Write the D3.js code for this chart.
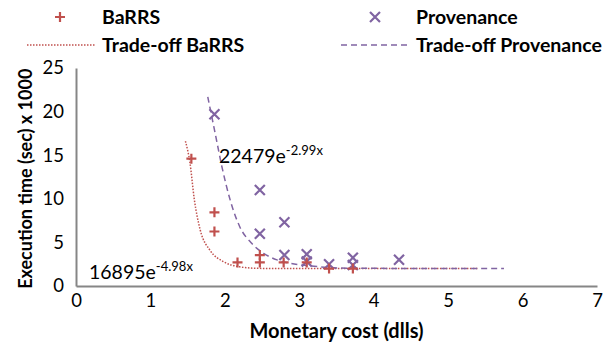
<!DOCTYPE html>
<html lang="en">
    <head>
        <meta charset="utf-8">
        <title>Trade-off chart</title>
        <script src="https://d3js.org/d3.v7.min.js"></script>
        <style type="text/css">
          body
          {
              margin: 0;
              background: #ffffff;
          }
          text
          {
              font-family: Lato, "Open Sans", sans-serif;
          }
        </style>
    </head>
    <body>
        <script type="text/javascript">
            // measured points, cost in dlls and time in sec x 1000
            var barrsCost = [1.55, 1.86, 1.86, 2.17, 2.47, 2.47, 2.79, 3.10, 3.40, 3.72];
            var barrsTime = [14.6, 8.45, 6.25, 2.7, 3.55, 2.7, 2.7, 2.7, 2.0, 2.0];

            var provCost = [1.86, 2.47, 2.47, 2.80, 2.80, 3.10, 3.10, 3.40, 3.72, 3.72, 4.34];
            var provTime = [19.7, 11.0, 6.0, 7.3, 3.55, 3.65, 2.8, 2.5, 3.25, 2.4, 3.0];

            // fitted trade-off curves
            var barrsFitCost = [1.47, 1.53, 1.59, 1.67, 1.80, 1.98, 2.2, 2.43, 2.8, 5.4];
            var barrsFitTime = [16.6, 14.2, 9.9, 6.4, 4.1, 2.8, 2.2, 2.03, 2.0, 2.0];

            var provFitCost = [1.77, 1.87, 1.96, 2.07, 2.2, 2.36, 2.52, 2.7, 2.88, 3.1, 3.4, 3.8, 5.75];
            var provFitTime = [21.7, 17.5, 13.7, 9.9, 6.8, 4.9, 3.75, 3.0, 2.6, 2.35, 2.12, 2.03, 2.0];

            var xTicks = [0, 1, 2, 3, 4, 5, 6, 7];
            var yTicks = [0, 5, 10, 15, 20, 25];

            var red = "#c0504d";
            var purple = "#8064a2";

            var w = 612, h = 346;
            var margin = {top: 68, right: 15, bottom: 60, left: 76};

            var svg = d3.select("body")
                        .append("svg")
                        .attr("width", w)
                        .attr("height", h);

            var xScale = d3.scaleLinear().domain([0, 7]).range([margin.left, w - margin.right]);
            var yScale = d3.scaleLinear().domain([0, 25]).range([h - margin.bottom, margin.top]);

            // axes, no tick marks, grey lines
            var xAxis = d3.axisBottom(xScale).tickValues(xTicks).tickFormat(d3.format("d")).tickSize(0).tickPadding(8);
            var gx = svg.append("g")
                        .attr("transform", "translate(0," + yScale(0) + ")")
                        .call(xAxis);

            var yAxis = d3.axisLeft(yScale).tickValues(yTicks).tickFormat(d3.format("d")).tickSize(0).tickPadding(12);
            var gy = svg.append("g")
                        .attr("transform", "translate(" + xScale(0) + ",0)")
                        .call(yAxis);

            [gx, gy].forEach(function(g)
            {
                g.select(".domain").attr("stroke", "#868686").attr("stroke-width", 2);
                g.selectAll("text")
                 .attr("fill", "#000")
                 .style("font-size", "18.5px")
                 .style("font-family", "Lato, sans-serif");
            });

            // axis titles
            svg.append("text")
               .attr("x", (xScale(0) + xScale(7)) / 2)
               .attr("y", 338)
               .attr("text-anchor", "middle")
               .style("font-size", "20px")
               .style("font-weight", "bold")
               .text("Monetary cost (dlls)");

            svg.append("text")
               .attr("transform", "translate(32," + yScale(12.3) + ") rotate(-90)")
               .attr("text-anchor", "middle")
               .style("font-size", "18px")
               .style("font-weight", "bold")
               .text("Execution time (sec) x 1000");

            // trade-off lines
            var line = d3.line()
                         .x(function(d) { return xScale(d[0]); })
                         .y(function(d) { return yScale(d[1]); })
                         .curve(d3.curveMonotoneX);

            svg.append("path")
               .datum(d3.zip(barrsFitCost, barrsFitTime))
               .attr("fill", "none")
               .attr("stroke", red)
               .attr("stroke-width", 1.5)
               .attr("stroke-dasharray", "1.5,1.5")
               .attr("d", line);

            svg.append("path")
               .datum(d3.zip(provFitCost, provFitTime))
               .attr("fill", "none")
               .attr("stroke", purple)
               .attr("stroke-width", 1.5)
               .attr("stroke-dasharray", "6,4")
               .attr("d", line);

            // markers
            function drawPlus(g, x, y, color)
            {
                g.append("path")
                 .attr("d", "M" + (x - 5) + "," + y + "H" + (x + 5) + "M" + x + "," + (y - 5) + "V" + (y + 5))
                 .attr("stroke", color)
                 .attr("stroke-width", 2.2);
            }
            function drawCross(g, x, y, color)
            {
                g.append("path")
                 .attr("d", "M" + (x - 5) + "," + (y - 5) + "L" + (x + 5) + "," + (y + 5) +
                            "M" + (x - 5) + "," + (y + 5) + "L" + (x + 5) + "," + (y - 5))
                 .attr("stroke", color)
                 .attr("stroke-width", 2.2);
            }

            var pts = svg.append("g");
            d3.zip(provCost, provTime).forEach(function(d)
            {
                drawCross(pts, xScale(d[0]), yScale(d[1]), purple);
            });
            d3.zip(barrsCost, barrsTime).forEach(function(d)
            {
                drawPlus(pts, xScale(d[0]), yScale(d[1]), red);
            });

            // equation labels
            function equation(x, y, base, power)
            {
                var t = svg.append("text")
                           .attr("x", x)
                           .attr("y", y)
                           .style("font-size", "19.5px");
                t.append("tspan").text(base);
                t.append("tspan")
                 .attr("dy", -8)
                 .style("font-size", "13px")
                 .text(power);
            }
            equation(219, 163, "22479e", "-2.99x");
            equation(89, 279, "16895e", "-4.98x");

            // legend
            var legend = svg.append("g").style("font-size", "19.5px").style("font-weight", "bold");

            drawPlus(legend, 60, 17, red);
            legend.append("text").attr("x", 102).attr("y", 24).text("BaRRS");

            drawCross(legend, 375, 17, purple);
            legend.append("text").attr("x", 416).attr("y", 24).text("Provenance");

            legend.append("line")
                  .attr("x1", 27).attr("x2", 95).attr("y1", 45).attr("y2", 45)
                  .attr("stroke", red)
                  .attr("stroke-width", 1.5)
                  .attr("stroke-dasharray", "1.5,1.5");
            legend.append("text").attr("x", 102).attr("y", 52).text("Trade-off BaRRS");

            legend.append("line")
                  .attr("x1", 341).attr("x2", 409).attr("y1", 45).attr("y2", 45)
                  .attr("stroke", purple)
                  .attr("stroke-width", 1.5)
                  .attr("stroke-dasharray", "6,4");
            legend.append("text").attr("x", 416).attr("y", 52).text("Trade-off Provenance");
        </script>
    </body>
</html>
